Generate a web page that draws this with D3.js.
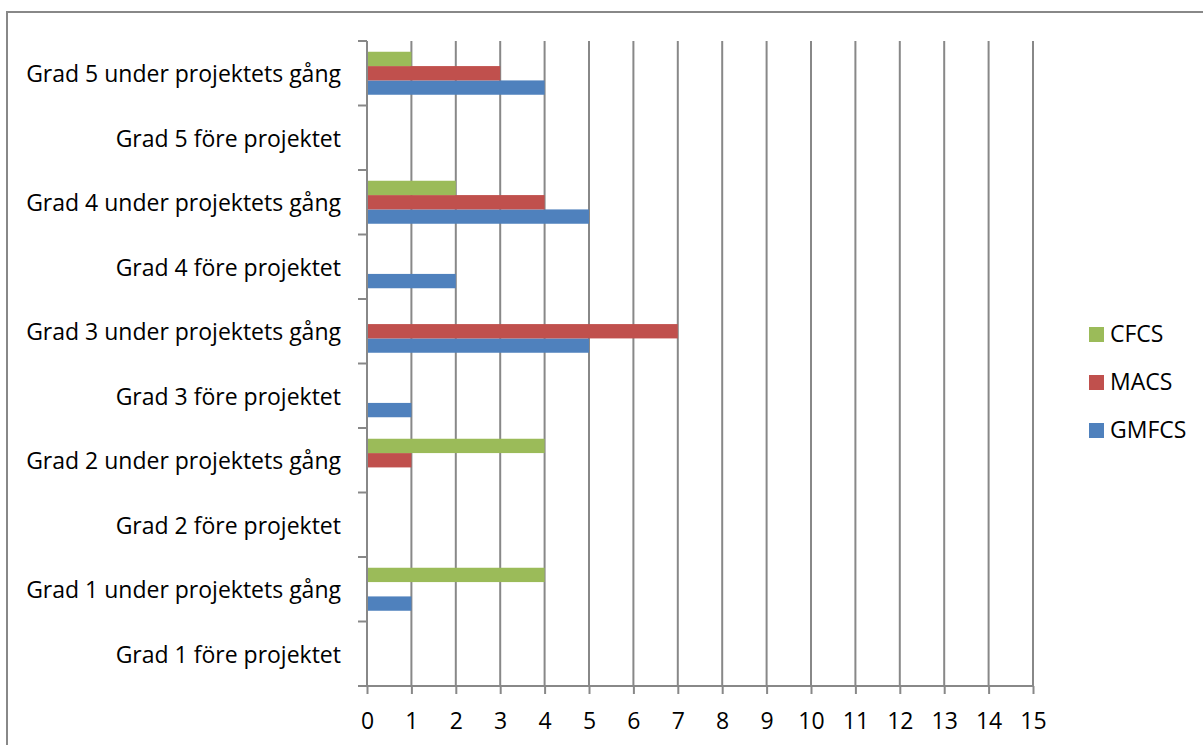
<!DOCTYPE html>
<html>
<head>
<meta charset="utf-8">
<script src="https://cdn.jsdelivr.net/npm/d3@7"></script>
<style>
  html, body { margin: 0; padding: 0; background: #fff; }
  svg text { font-family: "Open Sans", "Noto Sans", sans-serif; fill: #000; }
</style>
</head>
<body>
<svg id="viz" width="1203" height="745"></svg>
<script>
// categories, bottom to top as in the chart
const categories = [
  'Grad 1  före projektet',
  'Grad 1 under projektets gång',
  'Grad 2 före projektet',
  'Grad 2 under projektets gång',
  'Grad 3 före projektet',
  'Grad 3 under projektets gång',
  'Grad 4 före projektet',
  'Grad 4 under projektets gång',
  'Grad 5 före projektet',
  'Grad 5 under projektets gång'
];
const seriesNames = ['GMFCS', 'MACS', 'CFCS'];
const seriesColors = ['#4F81BD', '#C0504D', '#9BBB59'];
const gmfcs = [0, 1, 0, 0, 1, 5, 2, 5, 0, 4];
const macs  = [0, 0, 0, 1, 0, 7, 0, 4, 0, 3];
const cfcs  = [0, 4, 0, 4, 0, 0, 0, 2, 0, 1];
const xTicks = d3.range(0, 16);

const svg = d3.select('#viz');
const gridColor = '#888888';
const fontSize = '23px';

// outer chart border (runs off right/bottom edge)
svg.append('path')
  .attr('d', 'M7,750 L7,12 L1210,12')
  .attr('fill', 'none').attr('stroke', gridColor).attr('stroke-width', 2);

const plotLeft = 367, plotRight = 1033, plotTop = 41, plotBottom = 686;

const x = d3.scaleLinear().domain([0, 15]).range([plotLeft, plotRight]);
// reversed so first category is at the bottom
const y = d3.scaleBand().domain(categories.slice().reverse()).range([plotTop, plotBottom]);
const barH = y.bandwidth() / 4.5; // gap width 150%
const y1 = d3.scaleBand().domain(['CFCS', 'MACS', 'GMFCS']).range([0.75 * barH, 3.75 * barH]);

// vertical gridlines
svg.append('g').selectAll('line').data(xTicks.filter(d => d > 0)).join('line')
  .attr('x1', d => x(d)).attr('x2', d => x(d))
  .attr('y1', plotTop).attr('y2', plotBottom)
  .attr('stroke', gridColor).attr('stroke-width', 2);

// bars
const values = { GMFCS: gmfcs, MACS: macs, CFCS: cfcs };
seriesNames.forEach((s, si) => {
  svg.append('g').selectAll('rect').data(categories.map((c, i) => ({ c, v: values[s][i] })).filter(d => d.v > 0))
    .join('rect')
    .attr('x', x(0))
    .attr('y', d => y(d.c) + y1(s))
    .attr('width', d => x(d.v) - x(0))
    .attr('height', y1.bandwidth())
    .attr('fill', seriesColors[si]);
});

// x axis
const xAxis = svg.append('g').attr('transform', `translate(0,${plotBottom})`)
  .call(d3.axisBottom(x).tickValues(xTicks).tickSize(8).tickSizeOuter(0));
xAxis.select('.domain').attr('stroke', gridColor).attr('stroke-width', 2)
  .attr('d', `M${plotLeft - 9},0H${plotRight}`);
xAxis.selectAll('.tick line').attr('stroke', gridColor).attr('stroke-width', 2);
xAxis.selectAll('.tick text').style('font-size', fontSize).attr('y', 43).attr('dy', 0);

// y axis
const yAxis = svg.append('g').attr('transform', `translate(${plotLeft},0)`)
  .call(d3.axisLeft(y).tickSize(0).tickPadding(26).tickSizeOuter(0));
yAxis.select('.domain').attr('stroke', gridColor).attr('stroke-width', 2)
  .attr('d', `M0,${plotTop}V${plotBottom}`);
yAxis.selectAll('.tick text').style('font-size', fontSize).attr('dy', '0.38em');
// category boundary ticks
svg.append('g').selectAll('line').data(categories).join('line')
  .attr('x1', plotLeft - 9).attr('x2', plotLeft)
  .attr('y1', d => y(d)).attr('y2', d => y(d))
  .attr('stroke', gridColor).attr('stroke-width', 2);

// legend
const legend = svg.append('g').attr('transform', 'translate(1089,0)');
const legendItems = [
  { name: 'CFCS', color: seriesColors[2], base: 342 },
  { name: 'MACS', color: seriesColors[1], base: 390 },
  { name: 'GMFCS', color: seriesColors[0], base: 438 }
];
legendItems.forEach(d => {
  legend.append('rect').attr('x', 0).attr('y', d.base - 15).attr('width', 15).attr('height', 15).attr('fill', d.color);
  legend.append('text').attr('x', 21).attr('y', d.base).style('font-size', fontSize).text(d.name);
});
</script>
</body>
</html>
